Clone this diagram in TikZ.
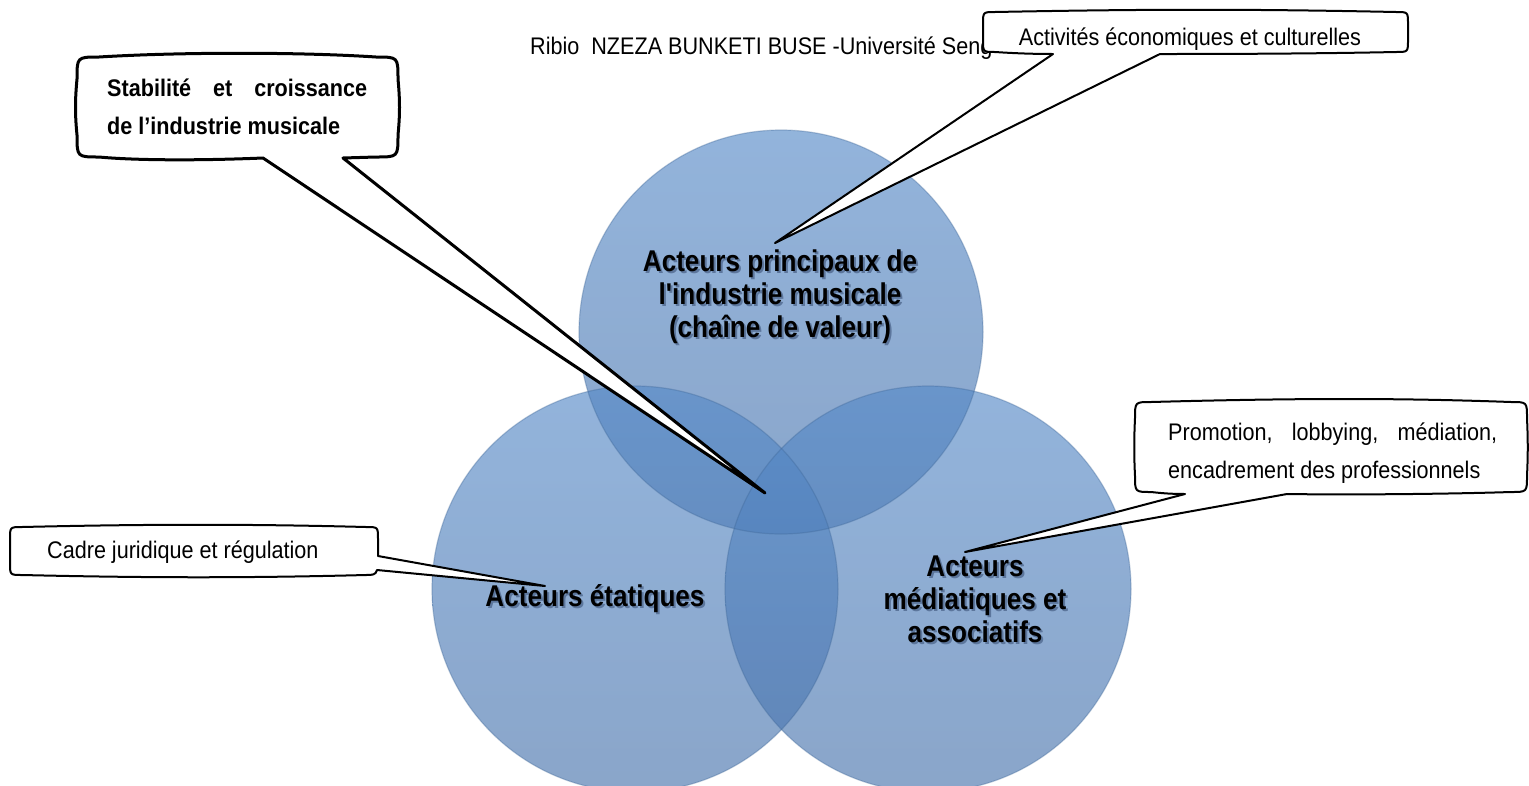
\documentclass[tikz,border=0pt]{standalone}
\usepackage{fontspec}
\setmainfont{Liberation Sans}
\newfontfamily\condfont[FakeStretch=0.9]{Liberation Sans}
\newfontfamily\lblfont[FakeStretch=0.87]{Liberation Sans}
\definecolor{vblue}{RGB}{79,129,189}
\definecolor{vtop}{RGB}{86,138,200}
\definecolor{vbot}{RGB}{72,115,172}
\definecolor{shblue}{RGB}{92,118,156}
\newcommand\shtxt[1]{\leavevmode\rlap{\hspace{2pt}\raisebox{-2pt}{\textcolor{shblue}{#1}}}#1}
\begin{document}
\begin{tikzpicture}[x=1pt,y=-1pt,
  circ/.style={top color=vtop, bottom color=vbot, fill opacity=0.64},
  rim/.style={draw=vblue!80!black, draw opacity=0.35, line width=1.2},
  callout/.style={draw=black, fill=white, line width=2, line join=round},
  lbl/.style={font=\lblfont\bfseries\fontsize{30}{33}\selectfont, align=center, text=black},
  note/.style={font=\condfont\fontsize{24}{28}\selectfont, text=black, inner sep=0pt}
]
\fill[white] (0,0) rectangle (1529,785);
\useasboundingbox (0,0) rectangle (1529,785);

% circles
\shade[circ] (781,332) circle[radius=202];
\shade[circ] (635,589) circle[radius=203];
\shade[circ] (928,589) circle[radius=203];
\draw[rim] (781,332) circle[radius=202];
\draw[rim] (635,589) circle[radius=203];
\draw[rim] (928,589) circle[radius=203];

% circle labels with soft shadow
\node[lbl] (c1) at (780,298) {\shtxt{Acteurs principaux de}\\\shtxt{l'industrie musicale}\\\shtxt{(chaîne de valeur)}};
\node[lbl] (c2) at (595,600) {\shtxt{Acteurs étatiques}};
\node[lbl] (c3) at (975,600) {\shtxt{Acteurs}\\\shtxt{médiatiques et}\\\shtxt{associatifs}};

% header
\node[note, anchor=base west] (hdr) at (530,54) {Ribio\ \ NZEZA BUNKETI BUSE -Université Seng};

% tips
\coordinate (t1) at (765,493);
\coordinate (t2) at (775,243);
\coordinate (t3) at (965,552);
\coordinate (t4) at (545,586);

% callout 1
\draw[callout, line width=3] (77,79) .. controls (77,57) and (77,57) .. (99,57)
 .. controls (180,52) and (300,52) .. (376,57)
 .. controls (398,57) and (398,57) .. (398,79)
 .. controls (400,100) and (400,115) .. (398,135)
 .. controls (398,157) and (398,157) .. (376,157)
 -- (343,158) -- (t1) -- (263,158)
 .. controls (190,161) and (130,160) .. (99,157)
 .. controls (77,157) and (77,157) .. (77,135)
 .. controls (75,115) and (75,100) .. cycle;

% callout 2
\draw[callout] (983,24) .. controls (983,12) and (983,12) .. (995,12)
 .. controls (1150,9) and (1250,9) .. (1396,12)
 .. controls (1408,12) and (1408,12) .. (1408,24)
 -- (1408,40)
 .. controls (1408,52) and (1408,52) .. (1396,52)
 .. controls (1300,54) and (1200,54) .. (1160,54)
 -- (t2) -- (1053,54)
 .. controls (1030,54) and (1010,53) .. (995,52)
 .. controls (983,52) and (983,52) .. (983,40) -- cycle;

% callout 3
\draw[callout] (1135,418) .. controls (1135,402) and (1135,402) .. (1151,402)
 .. controls (1300,398) and (1400,398) .. (1511,402)
 .. controls (1527,402) and (1527,402) .. (1527,418)
 .. controls (1528,440) and (1528,455) .. (1527,476)
 .. controls (1527,492) and (1527,492) .. (1511,492)
 .. controls (1450,494) and (1350,495) .. (1287,494)
 -- (t3) -- (1185,494)
 .. controls (1170,494) and (1160,493) .. (1151,492)
 .. controls (1135,492) and (1135,492) .. (1135,476)
 .. controls (1134,455) and (1134,440) .. cycle;

% callout 4
\draw[callout] (10,539) .. controls (10,527) and (10,527) .. (22,527)
 .. controls (150,524) and (250,524) .. (366,527)
 .. controls (378,527) and (378,527) .. (378,539)
 -- (378,556) -- (t4) -- (377,570)
 .. controls (376,575) and (372,575) .. (366,575)
 .. controls (250,578) and (150,578) .. (22,575)
 .. controls (10,575) and (10,575) .. (10,563) -- cycle;

% callout texts
\node[note, font=\condfont\bfseries\fontsize{24}{38}\selectfont, text width=260pt, align=justify, anchor=north west] (stab) at (107,79)
 {Stabilité et croissance\linebreak de l’industrie musicale};
\node[note, anchor=base] (act) at (1190,45) {Activités économiques et culturelles};
\node[note, font=\condfont\fontsize{24}{38}\selectfont, text width=329pt, align=justify, anchor=north west] (promo) at (1168,423)
 {Promotion, lobbying, médiation,\linebreak encadrement des professionnels};
\node[note, anchor=base west] (cadre) at (47,558) {Cadre juridique et régulation};
\end{tikzpicture}
\end{document}
